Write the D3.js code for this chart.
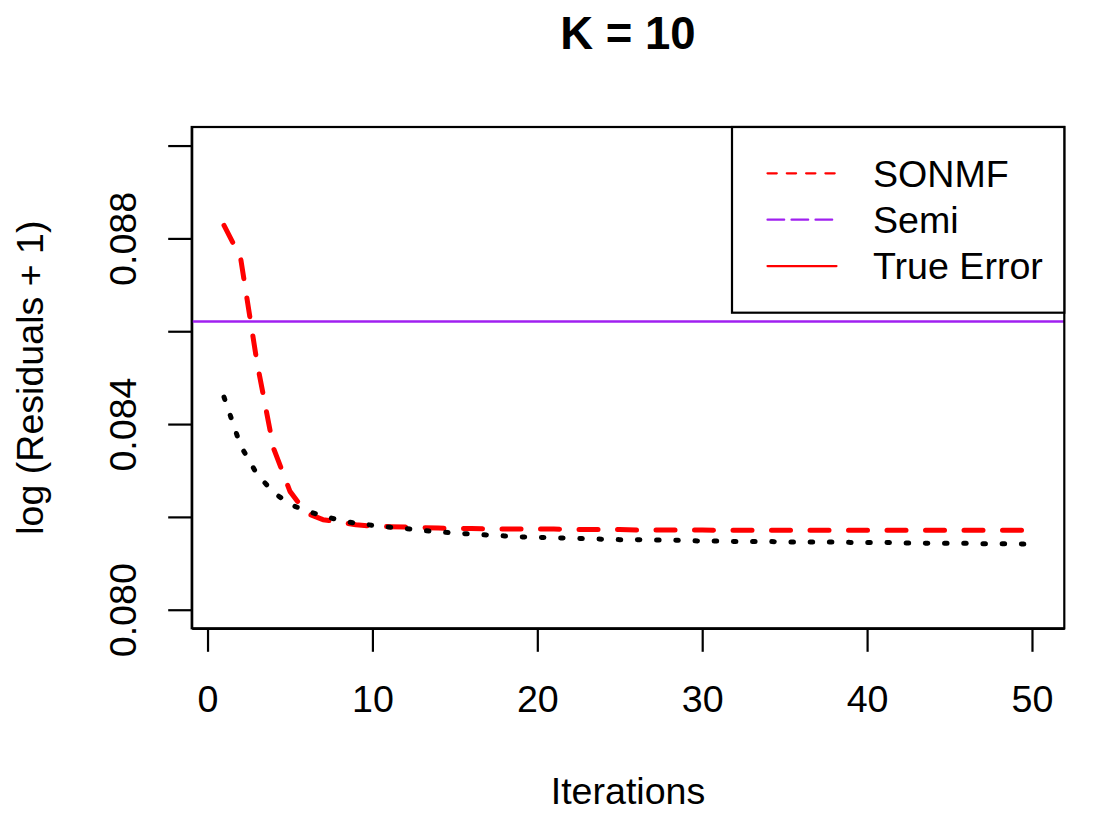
<!DOCTYPE html>
<html>
<head>
<meta charset="utf-8">
<script src="https://cdn.jsdelivr.net/npm/d3@7"></script>
<style>
  body { margin: 0; background: #fff; }
  text { font-family: "Liberation Sans", Arial, sans-serif; }
</style>
</head>
<body>
<div id="chart"></div>
<script>
// iterations 1..50
var iterations = [1,2,3,4,5,6,7,8,9,10,11,12,13,14,15,16,17,18,19,20,
                  21,22,23,24,25,26,27,28,29,30,31,32,33,34,35,36,37,38,39,40,
                  41,42,43,44,45,46,47,48,49,50];
// SONMF (red dashed)
var sonmf = [0.08828,0.08759,0.08533,0.08348,0.08255,0.08208,0.08194,0.08189,0.08183,0.08180,
             0.08179,0.08178,0.08177,0.08176,0.08175,0.08175,0.08174,0.08174,0.08174,0.08174,
             0.08174,0.08173,0.08173,0.08173,0.08173,0.08172,0.08172,0.08172,0.08172,0.08172,
             0.08171,0.08171,0.08171,0.08171,0.08171,0.08171,0.08171,0.08171,0.08171,0.08171,
             0.08171,0.08171,0.08171,0.08171,0.08171,0.08171,0.08171,0.08171,0.08171,0.08171];
// black dotted curve
var trueError = [0.08458,0.08354,0.08292,0.08253,0.08227,0.08213,0.08202,0.08193,0.08186,0.08182,
                 0.08178,0.08175,0.08171,0.08168,0.08165,0.08163,0.08161,0.08159,0.08157,0.08156,
                 0.08155,0.08154,0.08153,0.08152,0.08151,0.08151,0.08150,0.08150,0.08149,0.08148,
                 0.08148,0.08147,0.08147,0.08147,0.08146,0.08146,0.08146,0.08146,0.08145,0.08145,
                 0.08145,0.08144,0.08144,0.08143,0.08143,0.08143,0.08142,0.08142,0.08142,0.08141];
// Semi, horizontal reference line
var semi = 0.08621;

var xTicks = [0,10,20,30,40,50];
var yTicks = [0.080,0.082,0.084,0.086,0.088,0.090];
var yLabelled = [0.080,0.084,0.088];
var legendLabels = ['SONMF','Semi','True Error'];

var width = 1100, height = 824;
var pLeft = 191.7, pRight = 1064.3, pTop = 127, pBottom = 628.3;
var fontSize = '37.6px';

var svg = d3.select('#chart').append('svg').attr('width', width).attr('height', height);

// R style 4% padding round xlim c(1,50) and ylim c(0.08,0.09)
var x = d3.scaleLinear().domain([-0.96, 51.96]).range([pLeft, pRight]);
var y = d3.scaleLinear().domain([0.0796, 0.0904]).range([pBottom, pTop]);

svg.append('text')
    .attr('x', (pLeft + pRight) / 2).attr('y', 49)
    .attr('text-anchor', 'middle')
    .style('font-size', '45.5px').style('font-weight', 'bold')
    .text('K = 10');

var xAxis = svg.append('g')
    .attr('transform', 'translate(0,' + pBottom + ')')
    .call(d3.axisBottom(x).tickValues(xTicks).tickSize(23.5).tickSizeOuter(0).tickFormat(d3.format('d')));
xAxis.selectAll('.tick text').attr('y', 83.4).attr('dy', 0);

var yAxis = svg.append('g')
    .attr('transform', 'translate(' + pLeft + ',0)')
    .call(d3.axisLeft(y).tickValues(yTicks).tickSize(23.5).tickSizeOuter(0)
      .tickFormat(function(d){
        return yLabelled.some(function(v){ return Math.abs(v - d) < 1e-9; }) ? d3.format('.3f')(d) : '';
      }));
yAxis.selectAll('.tick text')
    .attr('transform', 'rotate(-90)')
    .attr('x', 0).attr('y', -(pLeft - 136)).attr('dy', 0)
    .attr('text-anchor', 'middle');

svg.selectAll('.tick line, .domain').attr('stroke', '#000').attr('stroke-width', 2.2);
svg.selectAll('.tick text').attr('fill', '#000').style('font-size', fontSize)
    .style('font-family', '"Liberation Sans", Arial, sans-serif');

svg.append('text')
    .attr('x', (pLeft + pRight) / 2).attr('y', 804)
    .attr('text-anchor', 'middle').style('font-size', fontSize)
    .text('Iterations');

svg.append('text')
    .attr('transform', 'translate(43,' + ((pTop + pBottom) / 2) + ') rotate(-90)')
    .attr('text-anchor', 'middle').style('font-size', fontSize)
    .text('log (Residuals + 1)');

var line = d3.line()
    .x(function(d, i){ return x(iterations[i]); })
    .y(function(d){ return y(d); });

svg.append('line')
    .attr('x1', x.range()[0]).attr('x2', x.range()[1])
    .attr('y1', y(semi)).attr('y2', y(semi))
    .attr('stroke', '#A020F0').attr('stroke-width', 2.5);

svg.append('path')
    .datum(sonmf)
    .attr('d', line)
    .attr('fill', 'none').attr('stroke', '#FF0000').attr('stroke-width', 5)
    .attr('stroke-dasharray', '19,19.5').attr('stroke-linecap', 'round').attr('stroke-linejoin', 'round');

svg.append('path')
    .datum(trueError)
    .attr('d', line)
    .attr('fill', 'none').attr('stroke', '#000').attr('stroke-width', 5)
    .attr('stroke-dasharray', '2.5,16.7').attr('stroke-linecap', 'round').attr('stroke-linejoin', 'round');

// plot box
svg.append('rect')
    .attr('x', pLeft).attr('y', pTop).attr('width', pRight - pLeft).attr('height', pBottom - pTop)
    .attr('fill', 'none').attr('stroke', '#000').attr('stroke-width', 2.2);

// legend (top right)
var legendStyle = [
  {color: '#FF0000', dash: '9.3,10'},
  {color: '#A020F0', dash: '16.7,7.3'},
  {color: '#FF0000', dash: null}
];
var lg = svg.append('g');
lg.append('rect')
    .attr('x', 732).attr('y', pTop).attr('width', pRight - 732).attr('height', 312.7 - pTop)
    .attr('fill', '#fff').attr('stroke', '#000').attr('stroke-width', 2.2);
var item = lg.selectAll('g.item').data(legendLabels).enter().append('g')
    .attr('class', 'item')
    .attr('transform', function(d, i){ return 'translate(0,' + (173.3 + i * 46.4) + ')'; });
item.append('line')
    .attr('x1', 767.5).attr('x2', 836.5).attr('y1', 0).attr('y2', 0)
    .attr('stroke', function(d, i){ return legendStyle[i].color; })
    .attr('stroke-width', 2.2).attr('stroke-linecap', 'round')
    .attr('stroke-dasharray', function(d, i){ return legendStyle[i].dash; });
item.append('text')
    .attr('x', 873).attr('y', 13.2)
    .style('font-size', fontSize)
    .text(function(d){ return d; });
</script>
</body>
</html>
